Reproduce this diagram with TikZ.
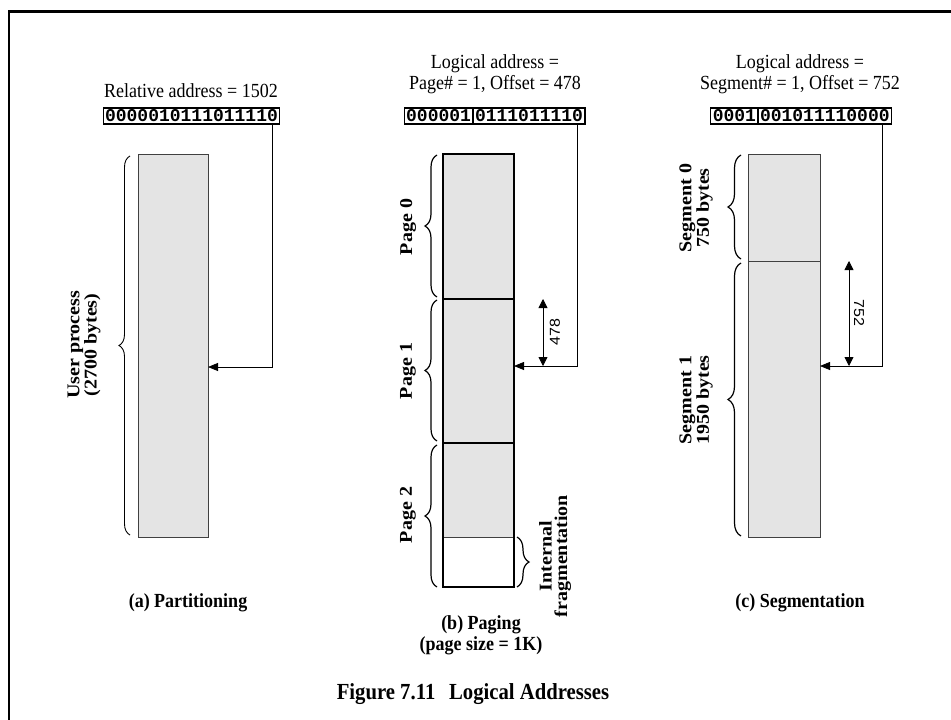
\documentclass[tikz,border=0pt]{standalone}
\usepackage{fontspec}
\usepackage{graphicx}
\setmainfont{Liberation Serif}[FakeStretch=0.9]
\newfontfamily\rotfont{Liberation Serif}
\newfontfamily\numfont{Liberation Sans}
\newfontfamily\binfont{Liberation Mono}
\usetikzlibrary{arrows.meta,decorations.pathreplacing,calc}
\newcommand\vsq[1]{\scalebox{1}[0.9]{#1}}
\definecolor{memgray}{RGB}{228,228,228}
\begin{document}
\begin{tikzpicture}[x=1pt,y=-1pt,
  lbl/.style={font=\fontsize{20}{21}\selectfont, inner sep=0pt},
  ttl/.style={font=\bfseries\fontsize{20}{21}\selectfont, inner sep=0pt},
  binbox/.style={draw, line width=1.1pt, font=\binfont\bfseries\fontsize{18}{18}\selectfont,
     inner xsep=2pt, inner ysep=2.5pt, text height=11pt, text depth=0pt, outer sep=0pt},
  memthin/.style={draw=black!75, line width=0.8pt, fill=memgray, minimum width=70, outer sep=0pt, inner sep=0pt},
  pagebox/.style={draw, line width=1.8pt, fill=memgray, minimum width=71, outer sep=0pt, inner sep=0pt},
  arr/.style={line width=0.8pt, -{Triangle[length=10pt,width=8pt]}},
  dimarr/.style={line width=0.8pt, {Triangle[length=9pt,width=9pt]}-{Triangle[length=9pt,width=9pt]}},
  brc/.style={decorate, line width=1.2pt},
  vlab/.style={rotate=90, font=\rotfont\bfseries\fontsize{20}{15.5}\selectfont, align=center, inner sep=0pt},
  numlbl/.style={font=\numfont\fontsize{16}{16}\selectfont, inner sep=0pt}
]
\useasboundingbox (0,0) rectangle (951,720);
\draw[line width=2.5pt] (9,720) -- (9,11.5) -- (951,11.5);

% ---------- (a) Partitioning ----------
\node[lbl, anchor=base] (hA) at (191,97) {Relative address = 1502};
\node[binbox, anchor=north] (ba) at (191.5,108) {0000010111011110};
\node[memthin, minimum height=383, anchor=north west] (ra) at (138,154) {};
\coordinate (ja) at (272,367);
\draw[arr] (ba.south -| ja) |- (ra.east |- ja);
\draw[brc, line width=0.9pt, decoration={brace, amplitude=11pt}] (130,535) -- (130,156);
\node[vlab] (uA) at (84,345) {\vsq{User process}\\\vsq{(2700 bytes)}};
\node[ttl] (tA) at (188,603) {(a) Partitioning};

% ---------- (b) Paging ----------
\node[lbl, anchor=base] (hB1) at (495,68) {Logical address =};
\node[lbl, anchor=base] (hB2) at (495,89) {Page\# = 1, Offset = 478};
\node[binbox, anchor=north east] (bb1) at (473,108) {000001};
\node[binbox, anchor=north west] (bb2) at (473,108) {0111011110};
\node[pagebox, minimum height=145, anchor=north west] (p0) at (443,154) {};
\node[pagebox, minimum height=144, anchor=north west] (p1) at (443,299) {};
\node[pagebox, fill=white, minimum height=144, anchor=north west] (p2) at (443,443) {};
\fill[memgray] (p2.north west) rectangle (514,537);
\draw[line width=0.8pt, black!75] (443,537) -- (514,537);
\draw[line width=1.8pt] (p2.north west) rectangle (p2.south east);
\coordinate (jb) at (577,366);
\draw[arr] (bb2.south -| jb) |- (p1.east |- jb);
\coordinate (db) at (543,366);
\draw[dimarr] (p1.north -| db) -- (db);
\node[numlbl, rotate=90] (l478) at (555,332) {\vsq{478}};
\draw[brc, decoration={brace, amplitude=12pt}] (437,297) -- (437,155);
\draw[brc, decoration={brace, amplitude=12pt}] (437,441) -- (437,300);
\draw[brc, decoration={brace, amplitude=12pt}] (437,587) -- (437,445);
\draw[brc, decoration={brace, amplitude=12pt}] (517,537) -- (517,587);
\node[vlab] (pg0) at (408,227) {\vsq{Page 0}};
\node[vlab] (pg1) at (408,371) {\vsq{Page 1}};
\node[vlab] (pg2) at (408,515) {\vsq{Page 2}};
\node[vlab] (frag) at (555,556) {\vsq{Internal}\\\vsq{fragmentation}};
\node[ttl] (tB1) at (481,625) {(b) Paging};
\node[ttl] (tB2) at (481,646) {(page size = 1K)};

% ---------- (c) Segmentation ----------
\node[lbl, anchor=base] (hC1) at (800,68) {Logical address =};
\node[lbl, anchor=base] (hC2) at (800,89) {Segment\# = 1, Offset = 752};
\node[binbox, anchor=north east] (bc1) at (758,108) {0001};
\node[binbox, anchor=north west] (bc2) at (758,108) {001011110000};
\node[memthin, minimum width=72, minimum height=107, anchor=north west] (s0) at (748,154) {};
\node[memthin, minimum width=72, minimum height=276, anchor=north west] (s1) at (748,261) {};
\coordinate (jc) at (882,366);
\draw[arr] (bc2.south -| jc) |- (s1.east |- jc);
\coordinate (dc) at (849,366);
\draw[dimarr] (s1.north -| dc) -- (dc);
\node[numlbl, rotate=-90] (l752) at (859,313) {\vsq{752}};
\draw[brc, decoration={brace, amplitude=13pt}] (741,259) -- (741,155);
\draw[brc, decoration={brace, amplitude=13pt}] (741,536) -- (741,263);
\node[vlab] (sg0) at (696,208) {\vsq{Segment 0}\\\vsq{750 bytes}};
\node[vlab] (sg1) at (696,400) {\vsq{Segment 1}\\\vsq{1950 bytes}};
\node[ttl] (tC) at (800,603) {(c) Segmentation};

% ---------- caption ----------
\node[ttl, font=\bfseries\fontsize{23}{25}\selectfont] (cap) at (473,694) {Figure 7.11\hspace{0.6em}Logical Addresses};
\end{tikzpicture}
\end{document}
